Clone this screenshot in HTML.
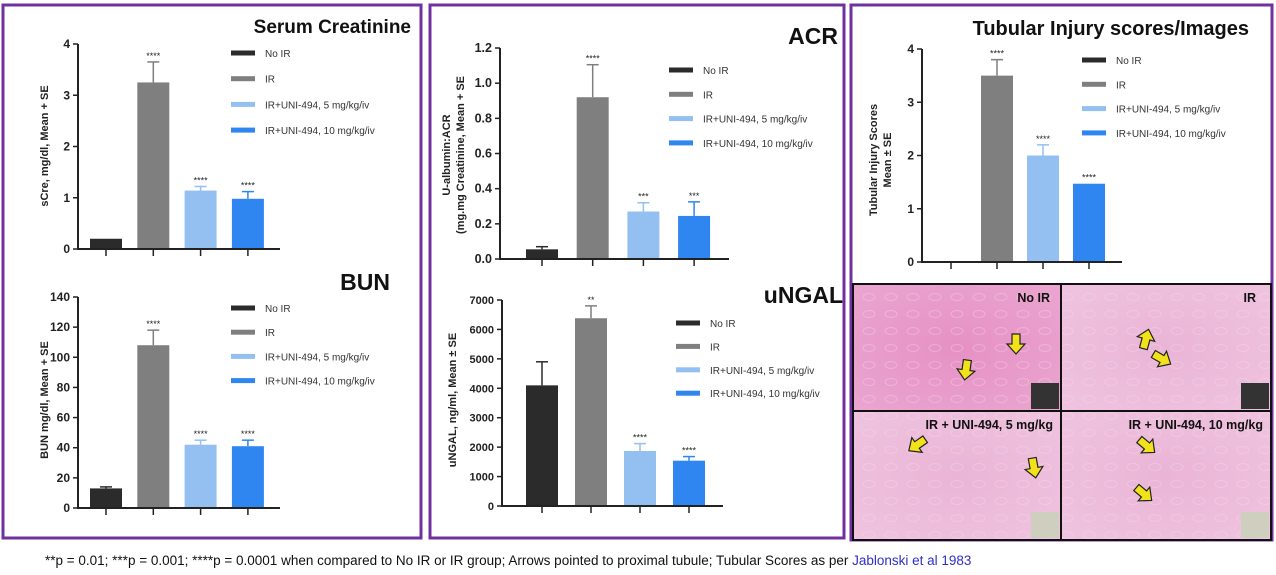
<!DOCTYPE html>
<html><head><meta charset="utf-8"><style>
body{margin:0;background:#fff;width:1276px;height:575px;overflow:hidden;font-family:"Liberation Sans",Arial,sans-serif}
svg{display:block}
text{font-family:"Liberation Sans",Arial,sans-serif}
</style></head><body>
<svg id="s" width="1276" height="575" viewBox="0 0 1276 575" xmlns="http://www.w3.org/2000/svg">
<defs>
<radialGradient id="pk1" cx="50%" cy="50%" r="70%"><stop offset="0" stop-color="#e690c4"/><stop offset="1" stop-color="#eaa6d0"/></radialGradient>
<radialGradient id="pk2" cx="50%" cy="50%" r="70%"><stop offset="0" stop-color="#eab4d6"/><stop offset="1" stop-color="#efc4df"/></radialGradient>
<pattern id="tex" width="22" height="17" patternUnits="userSpaceOnUse"><ellipse cx="11" cy="8" rx="6" ry="3.5" fill="none" stroke="#f6dcec" stroke-width="1" opacity="0.35"/></pattern>
</defs>
<rect x="3" y="5" width="418" height="533" fill="none" stroke="#7030a0" stroke-width="3"/>
<rect x="430" y="5" width="414" height="533" fill="none" stroke="#7030a0" stroke-width="3"/>
<rect x="851" y="5" width="421" height="535" fill="none" stroke="#7030a0" stroke-width="3"/>
<g id="charts"></g>
<g id="imgs"></g>
<text x="45" y="565" font-size="13.5" fill="#111">**p = 0.01; ***p = 0.001; ****p = 0.0001 when compared to No IR or IR group; Arrows pointed to proximal tubule; Tubular Scores as per <tspan fill="#2f2fc8">Jablonski et al 1983</tspan></text>
</svg>
<script>
const groups = ["No IR","IR","IR+UNI-494, 5 mg/kg/iv","IR+UNI-494, 10 mg/kg/iv"];
const colors = ["#2b2b2b","#7f7f7f","#93c0f0","#2f86f0"];
const creMeans = [0.2,3.25,1.14,0.98];
const creErr = [0.2,3.65,1.22,1.12];
const creStars = ["","****","****","****"];
const creTicks = [0,1,2,3,4];
const bunMeans = [13,108,42,41];
const bunErr = [14,118,45,45];
const bunStars = ["","****","****","****"];
const bunTicks = [0,20,40,60,80,100,120,140];
const acrMeans = [0.055,0.92,0.27,0.245];
const acrErr = [0.07,1.105,0.32,0.325];
const acrStars = ["","****","***","***"];
const acrTicks = [0,0.2,0.4,0.6,0.8,1.0,1.2];
const ngalMeans = [4100,6380,1870,1540];
const ngalErr = [4900,6800,2120,1680];
const ngalStars = ["","**","****","****"];
const ngalTicks = [0,1000,2000,3000,4000,5000,6000,7000];
const tubMeans = [0,3.5,2.0,1.47];
const tubErr = [0,3.8,2.2,1.47];
const tubStars = ["","****","****","****"];
const tubTicks = [0,1,2,3,4];

const NS="http://www.w3.org/2000/svg";
const root=document.getElementById('charts');
function mk(tag,attrs,parent){const e=document.createElementNS(NS,tag);for(const k in attrs)e.setAttribute(k,attrs[k]);(parent||root).appendChild(e);return e;}

function chart(o){
  const g=mk('g',{});
  
  
  const max=o.ticks[o.ticks.length-1];
  const y=v=>o.y0-(v/max)*(o.y0-o.yTop);
  const x=i=>o.x0+o.first+i*o.step;
  const t=mk('text',{x:o.tx,y:o.ty,'font-size':o.tfs,'font-weight':'bold','text-anchor':'end',fill:'#111'},g);
  t.textContent=o.title;
  
  
  o.means.forEach((m,i)=>{
    const cx=x(i);
    if(o.err[i]>m){
      const el=mk('line',{x1:cx,x2:cx,y1:y(m),y2:y(o.err[i]),stroke:colors[i],'stroke-width':1.5},g);
      
      
      mk('line',{x1:cx-6,x2:cx+6,y1:y(o.err[i]),y2:y(o.err[i]),stroke:colors[i],'stroke-width':1.5},g);
    }
    if(m>0){
      const r=mk('rect',{x:cx-16,y:y(m),width:32,height:o.y0-y(m),fill:colors[i]},g);
      
      
    }
    if(o.stars[i]){
      const s=mk('text',{x:cx,y:y(o.err[i])-3,'font-size':9,'text-anchor':'middle',fill:'#222'},g);
      s.textContent=o.stars[i];
      
      
    }
    mk('line',{x1:cx,x2:cx,y1:o.y0,y2:o.y0+7,stroke:'#222','stroke-width':1.5},g);
  });
  const ax=mk('path',{d:`M${o.x0},${o.yTop}V${o.y0}H${o.xEnd}`,fill:'none',stroke:'#222','stroke-width':2},g);
  
  
  o.ticks.forEach(v=>{
    mk('line',{x1:o.x0-5,x2:o.x0,y1:y(v),y2:y(v),stroke:'#222','stroke-width':1.5},g);
    const tl=mk('text',{x:o.x0-8,y:y(v)+4,'font-size':o.tkfs||12,'font-weight':'bold','text-anchor':'end',fill:'#222'},g);
    tl.textContent=o.fmt?o.fmt(v):v;
    
    
  });
  o.ytitle.forEach((line,k)=>{
    const yt=mk('text',{transform:`translate(${o.ytx+k*14},${o.yty}) rotate(-90)`,'font-size':11,'font-weight':'bold','text-anchor':'middle',fill:'#222'},g);
    yt.textContent=line;
    
    
  });
  groups.forEach((gn,i)=>{
    const ly=o.ly+i*o.lstep;
    const sw=mk('rect',{x:o.lx,y:ly-2.5,width:24,height:5,fill:colors[i]},g);
    
    
    const lt=mk('text',{x:o.lx+34,y:ly+4,'font-size':10,fill:'#333'},g);
    lt.textContent=gn;
    
    
  });
}
chart({name:'serum-creatinine-chart',title:'Serum Creatinine',tx:411,ty:33,tfs:19,means:creMeans,err:creErr,stars:creStars,ticks:creTicks,
  x0:78,xEnd:280,first:28,step:47.3,y0:249,yTop:44,ytitle:['sCre, mg/dl, Mean + SE'],ytx:48,yty:146,lx:231,ly:53,lstep:25.7});
chart({name:'bun-chart',title:'BUN',tx:390,ty:290,tfs:23,means:bunMeans,err:bunErr,stars:bunStars,ticks:bunTicks,
  x0:78,xEnd:280,first:28,step:47.3,y0:508,yTop:297,ytitle:['BUN mg/dl, Mean + SE'],ytx:48,yty:400,lx:231,ly:308,lstep:24.2});
chart({name:'acr-chart',title:'ACR',tx:838,ty:44,tfs:23,means:acrMeans,err:acrErr,stars:acrStars,ticks:acrTicks,fmt:v=>v.toFixed(1),tkfs:12.5,
  x0:500,xEnd:729,first:42,step:50.7,y0:259,yTop:48,ytitle:['U-albumin:ACR','(mg.mg Creatinine, Mean + SE'],ytx:450,yty:155,lx:669,ly:70,lstep:24.3});
chart({name:'ungal-chart',title:'uNGAL',tx:843,ty:303,tfs:23,means:ngalMeans,err:ngalErr,stars:ngalStars,ticks:ngalTicks,tkfs:11,
  x0:502,xEnd:723,first:40,step:49,y0:506,yTop:300,ytitle:['uNGAL, ng/ml, Mean ± SE'],ytx:456,yty:400,lx:676,ly:323,lstep:23.4});
chart({name:'tubular-injury-chart',title:'Tubular Injury scores/Images',tx:1249,ty:35,tfs:20,means:tubMeans,err:tubErr,stars:tubStars,ticks:tubTicks,
  x0:922,xEnd:1122,first:29,step:46,y0:262,yTop:49,ytitle:['Tubular Injury Scores','Mean ± SE'],ytx:877,yty:160,lx:1082,ly:60,lstep:24.3});

const ig=document.getElementById('imgs');
const panels=[
 {x:853,y:284,w:208,h:127,fill:'url(#pk1)',label:'No IR',lx:1050,name:'image-no-ir',arrows:[[1016,344,0],[966,370,8]]},
 {x:1061,y:284,w:210,h:127,fill:'url(#pk2)',label:'IR',lx:1256,name:'image-ir',arrows:[[1146,339,-165],[1162,359,-60]]},
 {x:853,y:411,w:208,h:129,fill:'url(#pk2)',label:'IR + UNI-494, 5 mg/kg',lx:1053,name:'image-5mg',arrows:[[917,445,55],[1034,468,-10]]},
 {x:1061,y:411,w:210,h:129,fill:'url(#pk2)',label:'IR + UNI-494, 10 mg/kg',lx:1263,name:'image-10mg',arrows:[[1147,446,-50],[1144,494,-50]]}
];
panels.forEach(p=>{
  const g=mk('g',{},ig);
  
  
  mk('rect',{x:p.x,y:p.y,width:p.w,height:p.h,fill:p.fill},g);
  mk('rect',{x:p.x,y:p.y,width:p.w,height:p.h,fill:'url(#tex)'},g);
  mk('rect',{x:p.x+p.w-30,y:p.y+p.h-28,width:28,height:26,fill:p.name==='image-no-ir'||p.name==='image-ir'?'#333':'#cfcfc0'},g);
  const t=mk('text',{x:p.lx,y:p.y+18,'font-size':12.5,'font-weight':'bold','text-anchor':'end',fill:'#111'},g);
  t.textContent=p.label;
  p.arrows.forEach(a=>{
    const ar=mk('path',{d:'M-4,-10H4V0H9L0,10L-9,0H-4Z',fill:'#f2e21a',stroke:'#222','stroke-width':1.2,transform:`translate(${a[0]},${a[1]}) rotate(${a[2]})`},g);
    
    
  });
});
mk('rect',{x:853,y:284,width:418,height:256,fill:'none',stroke:'#111','stroke-width':2},ig);
mk('line',{x1:1061,x2:1061,y1:284,y2:540,stroke:'#111','stroke-width':2},ig);
mk('line',{x1:853,x2:1271,y1:411,y2:411,stroke:'#111','stroke-width':2},ig);
</script>
</body></html>
